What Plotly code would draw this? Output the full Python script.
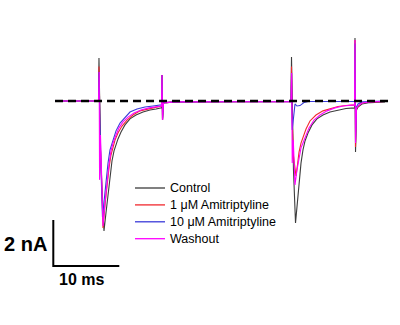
import plotly.graph_objects as go

# ---- data (time in ms, current in nA) ----
control_t = [0.26, 6.85, 6.92, 7.03, 7.15, 7.45, 7.68, 7.98, 8.29, 8.59, 8.89, 9.20, 9.50, 9.80,
             10.26, 10.86, 11.62, 12.53, 13.59, 14.65, 15.56, 16.39, 16.47, 16.55, 16.70, 17.08,
             18.44, 29.80, 36.02, 36.09, 36.20, 36.39, 36.70, 36.92, 37.23, 37.53, 37.83, 38.14,
             38.59, 39.20, 39.95, 40.86, 41.92, 43.14, 44.35, 45.64, 45.71, 45.79, 45.94, 46.17,
             46.77, 47.98, 50.26]
control_i = [0, 0, 1.87, -0.83, -2.13, -4.30, -5.65, -4.87, -4.00, -3.22, -2.61, -2.17, -1.87, -1.65,
             -1.35, -1.04, -0.78, -0.61, -0.48, -0.39, -0.35, -0.30, 1.13, -0.83, -0.09, -0.07,
             -0.04, -0.02, -0.02, 1.91, -0.83, -3.00, -5.30, -4.52, -3.43, -2.70, -2.13, -1.74,
             -1.39, -1.04, -0.78, -0.61, -0.48, -0.39, -0.33, -0.30, 2.74, -2.22, -0.39, -0.26,
             -0.13, -0.07, -0.04]

ami1_t = [0.26, 6.85, 6.92, 7.03, 7.15, 7.38, 7.53, 7.83, 8.14, 8.44, 8.74, 9.05, 9.35, 9.80,
          10.41, 11.17, 12.08, 13.14, 14.35, 15.41, 16.39, 16.47, 16.55, 16.70, 17.08, 18.44,
          29.80, 36.02, 36.09, 36.20, 36.39, 36.77, 37.00, 37.23, 37.53, 37.83, 38.29, 38.89,
          39.80, 40.86, 41.92, 43.14, 44.35, 45.64, 45.71, 45.79, 45.94, 46.17, 46.77, 47.98, 50.26]
ami1_i = [0, 0, 1.5, -0.83, -2.13, -4.00, -5.52, -4.52, -3.65, -2.91, -2.35, -1.96, -1.70, -1.39,
          -1.09, -0.83, -0.61, -0.43, -0.35, -0.26, -0.22, 1.13, -0.83, -0.09, -0.07, -0.04,
          -0.02, -0.02, 1.5, -0.83, -2.40, -3.26, -2.78, -2.22, -1.83, -1.57, -1.22, -0.87,
          -0.61, -0.43, -0.33, -0.24, -0.20, -0.17, 2.65, -2.00, -0.30, -0.22, -0.09, -0.04, -0.02]

ami10_t = [0.26, 6.85, 6.92, 7.03, 7.23, 7.45, 7.68, 7.98, 8.29, 8.59, 9.05, 9.50, 10.11, 10.86,
           11.62, 12.68, 13.89, 15.11, 16.39, 16.47, 16.55, 16.70, 17.08, 18.44, 29.80, 36.02,
           36.09, 36.20, 36.62, 36.92, 37.38, 37.98, 38.59, 44.95, 45.64, 45.71, 45.79, 45.94,
           46.17, 46.77, 50.26]
ami10_i = [0, 0, 1.26, -0.83, -3.00, -5.04, -4.30, -3.43, -2.70, -2.13, -1.70, -1.30, -0.96, -0.70,
           -0.48, -0.35, -0.26, -0.22, -0.17, 1.13, -0.83, -0.09, -0.07, -0.04, -0.02, -0.02,
           1.22, -1.26, -0.13, -0.22, -0.20, -0.07, -0.02, -0.02, -0.02, 2.50, -1.80, -0.26,
           -0.13, -0.04, 0]

wash_t = [0.26, 6.85, 6.95, 7.01, 7.15, 7.30, 7.53, 7.83, 8.14, 8.44, 8.74, 9.05, 9.50, 9.95,
          10.56, 11.32, 12.23, 13.29, 14.50, 15.56, 16.39, 16.47, 16.55, 16.70, 17.08, 18.44,
          29.80, 36.02, 36.12, 36.20, 36.36, 36.47, 36.62, 36.92, 37.23, 37.53, 37.83, 38.29,
          38.74, 39.50, 40.41, 41.47, 42.68, 43.89, 45.64, 45.71, 45.79, 45.94, 46.17, 46.77,
          47.98, 50.26]
wash_i = [0, 0, 1.26, -3.43, -1.48, -3.00, -5.43, -4.43, -3.52, -2.74, -2.17, -1.83, -1.48, -1.17,
          -0.91, -0.70, -0.52, -0.39, -0.30, -0.26, -0.22, 1.13, -0.83, -0.09, -0.07, -0.04,
          -0.02, -0.02, 1.22, -2.70, -1.70, -2.78, -3.65, -3.00, -2.43, -2.04, -1.83, -1.48,
          -1.17, -0.83, -0.61, -0.43, -0.30, -0.22, -0.17, 2.65, -1.83, -0.30, -0.22, -0.09,
          -0.04, -0.02]

series_names = ["Control", "1 μM Amitriptyline", "10 μM Amitriptyline", "Washout"]
series_colors = ["#3c3c3c", "#f0282e", "#3a3ad8", "#ff00ff"]

baseline_t = [0.26, 51.0]
baseline_i = [0, 0]

scale_t0, scale_i0 = 0.0, -7.17
scale_ms, scale_na = 10, 2

fig = go.Figure()
for t, i, name, col in zip([control_t, ami1_t, ami10_t, wash_t],
                           [control_i, ami1_i, ami10_i, wash_i],
                           series_names, series_colors):
    fig.add_trace(go.Scatter(x=t, y=i, mode="lines", name=name, showlegend=False,
                             line=dict(color=col, width=1.1)))

fig.add_trace(go.Scatter(x=baseline_t, y=baseline_i, mode="lines", showlegend=False,
                         line=dict(color="black", width=2.5, dash="8px,5px")))

fig.add_trace(go.Scatter(x=[scale_t0, scale_t0, scale_t0 + scale_ms],
                         y=[scale_i0 + scale_na, scale_i0, scale_i0],
                         mode="lines", showlegend=False,
                         line=dict(color="black", width=2)))

fig.add_annotation(x=scale_t0 - 0.7, y=scale_i0 + 0.95, text=f"<b>{scale_na} nA</b>",
                   showarrow=False, xanchor="right", yanchor="middle",
                   font=dict(family="Liberation Sans", size=20, color="black"))
fig.add_annotation(x=scale_t0 + 4.3, y=scale_i0 - 0.6, text=f"<b>{scale_ms} ms</b>",
                   showarrow=False, xanchor="center", yanchor="middle",
                   font=dict(family="Liberation Sans", size=16, color="black"))

# manual legend (line sample + label)
leg_x0, leg_x1, leg_tx = 135 / 400, 165 / 400, 168 / 400
leg_y0, leg_dy = 1 - 188 / 325, 16.9 / 325
for k, (name, col) in enumerate(zip(series_names, series_colors)):
    yy = leg_y0 - k * leg_dy
    fig.add_shape(type="line", xref="paper", yref="paper", x0=leg_x0, x1=leg_x1, y0=yy, y1=yy,
                  line=dict(color=col, width=1.3))
    fig.add_annotation(xref="paper", yref="paper", x=leg_tx, y=yy, text=name, showarrow=False,
                       xanchor="left", yanchor="middle",
                       font=dict(family="Liberation Sans", size=12.5, color="black"))

fig.update_layout(
    width=400, height=325,
    margin=dict(l=0, r=0, t=0, b=0),
    paper_bgcolor="white", plot_bgcolor="white",
    xaxis=dict(range=[-8.076, 52.53], visible=False),
    yaxis=dict(range=[-9.74, 4.39], visible=False),
    showlegend=False,
)

fig.write_html("out.html")
